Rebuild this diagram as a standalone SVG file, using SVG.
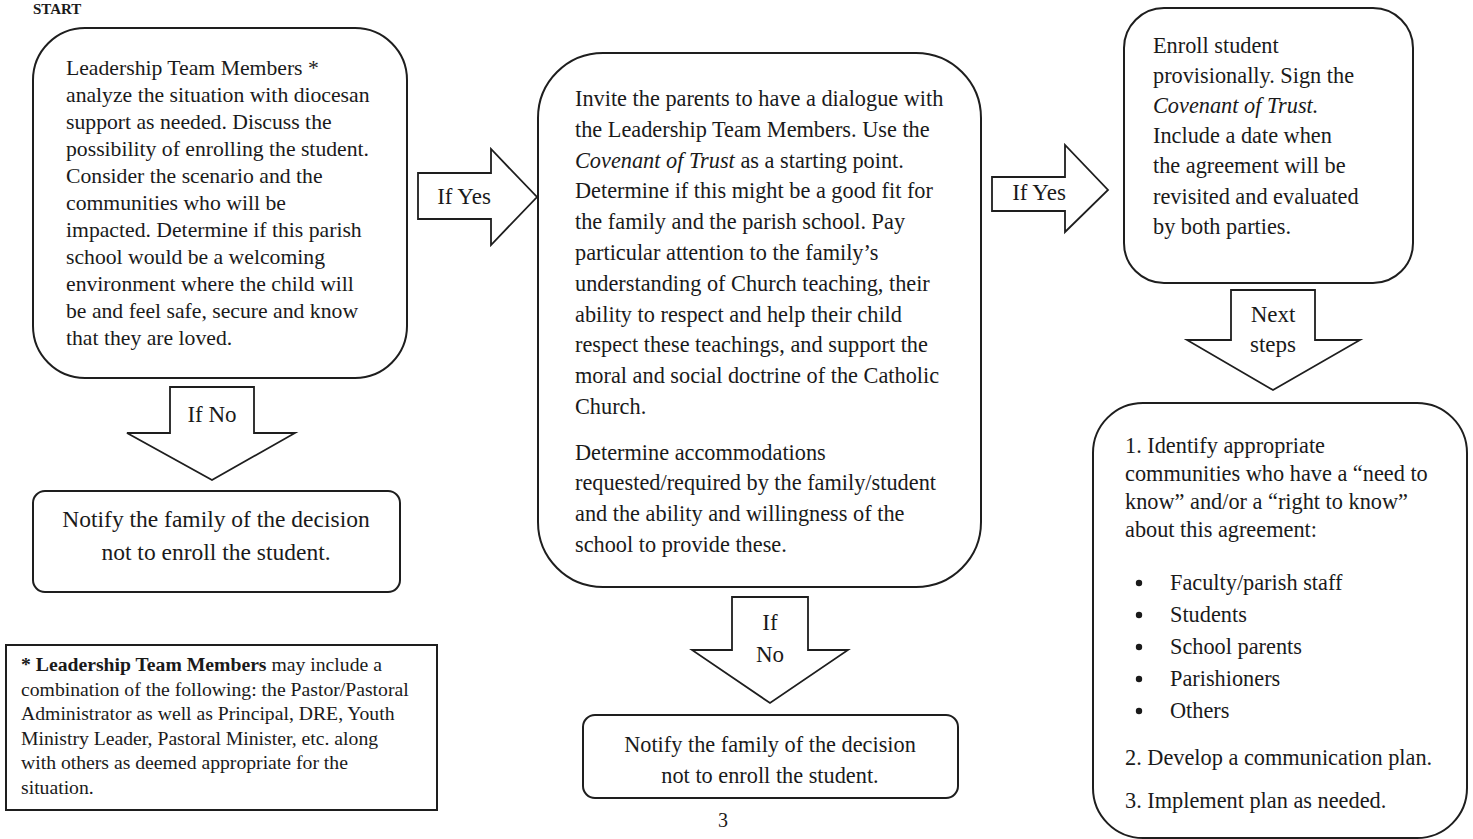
<svg xmlns="http://www.w3.org/2000/svg" width="1473" height="839" viewBox="0 0 1473 839">
<style>
.bg{fill:#ffffff}
.box{fill:#ffffff;stroke:#1e1e1e;stroke-width:2}
.arr{fill:#ffffff;stroke:#1e1e1e;stroke-width:1.8;stroke-linejoin:miter}
text{font-family:"Liberation Serif","Times New Roman",serif;fill:#1a1a1a}
.t{font-size:21.7px}
.m{font-size:22.3px}
.n{font-size:23.5px;text-anchor:middle}
.lbl{font-size:23px;text-anchor:middle}
.fn{font-size:19.7px}
.it{font-style:italic}
.b{font-weight:bold}
</style>
<rect class="bg" x="0" y="0" width="1473" height="839"/>
<text class="b" x="33" y="14" style="font-size:15px">START</text>

<g id="connectors">
  <g id="arrow-no-1">
    <polygon class="arr" points="170,387 254,387 254,433 295,433 212,480 127,433 170,433"/>
    <text class="lbl" x="212" y="422">If No</text>
  </g>
  <g id="arrow-yes-1">
    <polygon class="arr" points="418,173 491,173 491,149 537,197 491,245 491,219 418,219"/>
    <text class="lbl" x="464" y="204">If Yes</text>
  </g>
  <g id="arrow-no-2">
    <polygon class="arr" points="732,597 808,597 808,650 848,650 770,703 692,650 732,650"/>
    <text class="lbl" x="770" y="630">If</text>
    <text class="lbl" x="770" y="662">No</text>
  </g>
  <g id="arrow-yes-2">
    <polygon class="arr" points="992,177 1065,177 1065,145 1108,190 1065,232 1065,211 992,211"/>
    <text class="lbl" x="1039" y="200">If Yes</text>
  </g>
  <g id="arrow-next">
    <polygon class="arr" points="1231,290 1315,290 1315,340 1360,340 1273,390 1187,340 1231,340"/>
    <text class="lbl" x="1273" y="322">Next</text>
    <text class="lbl" x="1273" y="352">steps</text>
  </g>
</g>

<g id="node-analyze">
  <rect class="box" x="33" y="28" width="374" height="350" rx="52" ry="52"/>
  <text class="t" x="66" y="75">Leadership Team Members *</text>
  <text class="t" x="66" y="102">analyze the situation with diocesan</text>
  <text class="t" x="66" y="129">support as needed. Discuss the</text>
  <text class="t" x="66" y="156">possibility of enrolling the student.</text>
  <text class="t" x="66" y="183">Consider the scenario and the</text>
  <text class="t" x="66" y="210">communities who will be</text>
  <text class="t" x="66" y="237">impacted. Determine if this parish</text>
  <text class="t" x="66" y="264">school would be a welcoming</text>
  <text class="t" x="66" y="291">environment where the child will</text>
  <text class="t" x="66" y="318">be and feel safe, secure and know</text>
  <text class="t" x="66" y="345">that they are loved.</text>
</g>

<g id="node-notify-1">
  <rect class="box" x="33" y="491" width="367" height="101" rx="12" ry="12"/>
  <text class="n" x="216" y="527">Notify the family of the decision</text>
  <text class="n" x="216" y="560">not to enroll the student.</text>
</g>

<g id="node-footnote">
  <rect class="box" x="6" y="645" width="431" height="165"/>
  <text class="fn" x="21" y="671"><tspan class="b">* Leadership Team Members</tspan> may include a</text>
  <text class="fn" x="21" y="696">combination of the following: the Pastor/Pastoral</text>
  <text class="fn" x="21" y="720">Administrator as well as Principal, DRE, Youth</text>
  <text class="fn" x="21" y="745">Ministry Leader, Pastoral Minister, etc. along</text>
  <text class="fn" x="21" y="769">with others as deemed appropriate for the</text>
  <text class="fn" x="21" y="794">situation.</text>
</g>

<g id="node-dialogue">
  <rect class="box" x="538" y="53" width="443" height="534" rx="65" ry="65"/>
  <text class="m" x="575" y="106">Invite the parents to have a dialogue with</text>
  <text class="m" x="575" y="137">the Leadership Team Members. Use the</text>
  <text class="m" x="575" y="168"><tspan class="it">Covenant of Trust</tspan> as a starting point.</text>
  <text class="m" x="575" y="198">Determine if this might be a good fit for</text>
  <text class="m" x="575" y="229">the family and the parish school. Pay</text>
  <text class="m" x="575" y="260">particular attention to the family’s</text>
  <text class="m" x="575" y="291">understanding of Church teaching, their</text>
  <text class="m" x="575" y="322">ability to respect and help their child</text>
  <text class="m" x="575" y="352">respect these teachings, and support the</text>
  <text class="m" x="575" y="383">moral and social doctrine of the Catholic</text>
  <text class="m" x="575" y="414">Church.</text>
  <text class="m" x="575" y="460">Determine accommodations</text>
  <text class="m" x="575" y="490">requested/required by the family/student</text>
  <text class="m" x="575" y="521">and the ability and willingness of the</text>
  <text class="m" x="575" y="552">school to provide these.</text>
</g>

<g id="node-notify-2">
  <rect class="box" x="583" y="715" width="375" height="83" rx="12" ry="12"/>
  <text class="n" x="770" y="752" style="font-size:22.3px">Notify the family of the decision</text>
  <text class="n" x="770" y="783" style="font-size:22.3px">not to enroll the student.</text>
</g>

<g id="node-enroll">
  <rect class="box" x="1124" y="8" width="289" height="275" rx="40" ry="40"/>
  <text class="m" x="1153" y="53">Enroll student</text>
  <text class="m" x="1153" y="83">provisionally. Sign the</text>
  <text class="m" x="1153" y="113" font-style="italic">Covenant of Trust.</text>
  <text class="m" x="1153" y="143">Include a date when</text>
  <text class="m" x="1153" y="173">the agreement will be</text>
  <text class="m" x="1153" y="204">revisited and evaluated</text>
  <text class="m" x="1153" y="234">by both parties.</text>
</g>

<g id="node-next-steps">
  <rect class="box" x="1093" y="403" width="374" height="435" rx="50" ry="50"/>
  <text class="m" x="1125" y="453">1. Identify appropriate</text>
  <text class="m" x="1125" y="481">communities who have a “need to</text>
  <text class="m" x="1125" y="509">know” and/or a “right to know”</text>
  <text class="m" x="1125" y="537">about this agreement:</text>
  <circle cx="1139" cy="583" r="3.2" fill="#1a1a1a"/>
  <text class="m" x="1170" y="590">Faculty/parish staff</text>
  <circle cx="1139" cy="615" r="3.2" fill="#1a1a1a"/>
  <text class="m" x="1170" y="622">Students</text>
  <circle cx="1139" cy="647" r="3.2" fill="#1a1a1a"/>
  <text class="m" x="1170" y="654">School parents</text>
  <circle cx="1139" cy="679" r="3.2" fill="#1a1a1a"/>
  <text class="m" x="1170" y="686">Parishioners</text>
  <circle cx="1139" cy="711" r="3.2" fill="#1a1a1a"/>
  <text class="m" x="1170" y="718">Others</text>
  <text class="m" x="1125" y="765">2. Develop a communication plan.</text>
  <text class="m" x="1125" y="808">3. Implement plan as needed.</text>
</g>

<text x="723" y="827" style="font-size:20px;text-anchor:middle">3</text>
</svg>
